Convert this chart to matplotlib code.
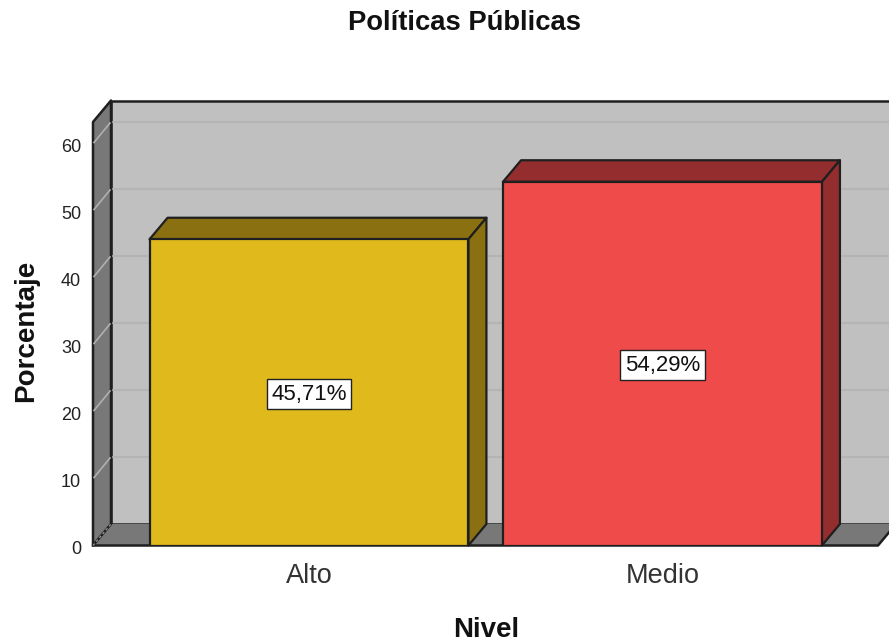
import matplotlib
matplotlib.use("Agg")
import matplotlib.pyplot as plt
from matplotlib.patches import Polygon
from matplotlib.transforms import ScaledTranslation

categories = ["Alto", "Medio"]
values = [45.71, 54.29]
labels = ["45,71%", "54,29%"]
yticks = [0, 10, 20, 30, 40, 50, 60]
title = "Políticas Públicas"
xlabel = "Nivel"
ylabel = "Porcentaje"

plt.rcParams["font.family"] = ["Liberation Sans", "DejaVu Sans"]
W, H = 889, 643
fig = plt.figure(figsize=(W / 100, H / 100), dpi=100)
# axes: pixel box of the front plane
L, R, B, T = 93, 889, 545.5, 100
ax = fig.add_axes([L / W, 1 - B / H, (R - L) / W, (B - T) / H])
PX_Y = 6.7
PX_X = 353.5
ax.set_ylim(0, (B - T) / PX_Y)
ax.set_xlim((L - 309) / PX_X, (R - 309) / PX_X)
for s in ax.spines.values():
    s.set_visible(False)
ax.patch.set_visible(False)

dx = 18 / PX_X
dy = 21.5 / PX_Y
x0, x1 = ax.get_xlim()
wall_top = (B - 122) / PX_Y  # front-plane top of wall
edge = "#1f1f1f"
side = "#787878"
back = "#C0C0C0"

def poly(pts, fc, z, lw=1.6, ec=edge):
    ax.add_patch(Polygon(pts, closed=True, facecolor=fc, edgecolor=ec, linewidth=lw,
                         zorder=z, clip_on=False, joinstyle="round"))

# back wall
poly([(x0 + dx, dy), (x1 + 0.2, dy), (x1 + 0.2, wall_top + dy), (x0 + dx, wall_top + dy)], back, 1, lw=1.8)
# floor
floor_r = x1 - 11 / PX_X
poly([(x0, 0), (floor_r, 0), (floor_r + dx, dy), (x0 + dx, dy)], side, 2, lw=0)
ax.plot([x0, floor_r, floor_r + dx], [0, 0, dy], color=edge, lw=1.8, zorder=2.1, clip_on=False)
# gridlines on the back wall
for t in yticks[1:]:
    ax.plot([x0 + dx, x1 + 0.2], [t + dy, t + dy], color="#B4B4B4", lw=1.5, zorder=1.5, clip_on=False)
# left wall
poly([(x0, 0), (x0 + dx, dy), (x0 + dx, wall_top + dy), (x0, wall_top)], side, 2, lw=1.8)
ax.plot([x0, x0 + dx], [0, dy], color="#9a9a9a", lw=0.9, ls=(0, (2, 2)), zorder=2.2, clip_on=False)
for t in yticks[1:]:
    ax.plot([x0 + 1 / PX_X, x0 + dx - 1 / PX_X], [t + 1 / PX_Y, t + dy - 1 / PX_Y], color="#B0B0B0", lw=1.2, zorder=2.3, clip_on=False)

# bars
xs = list(range(len(categories)))
width = 0.902
face = ["#E0BA1C", "#EF4B4B"]
dark = ["#8A7010", "#942E2E"]
ax.bar(xs, values, width=width, color=face, edgecolor=edge, linewidth=1.6, zorder=5)
for x, v, d in zip(xs, values, dark):
    l, r = x - width / 2, x + width / 2
    poly([(l, v), (r, v), (r + dx, v + dy), (l + dx, v + dy)], d, 4)
    poly([(r, 0), (r + dx, dy), (r + dx, v + dy), (r, v)], d, 4)

# data labels
for x, v, s in zip(xs, values, labels):
    ax.annotate(s, (x, v / 2), xytext=(0, -1.2), textcoords="offset points",
                ha="center", va="center", fontsize=16, color="#111111", zorder=6,
                bbox=dict(boxstyle="square,pad=0.2", facecolor="white", edgecolor="#222222", linewidth=1))

ax.set_yticks(yticks)
ax.set_xticks(xs)
ax.set_xticklabels(categories)
ax.tick_params(axis="y", length=0, pad=8.5, labelsize=13, labelcolor="#222222")
ax.tick_params(axis="x", length=0, pad=12.5, labelsize=19.5, labelcolor="#333333")
shift = ScaledTranslation(0, -2 / 100, fig.dpi_scale_trans)
for lab in ax.get_yticklabels():
    lab.set_transform(lab.get_transform() + shift)

fig.text(464 / W, 1 - 23 / H, title, ha="center", va="center", fontsize=19.7, fontweight="bold", color="#111111")
fig.text(486 / W, 1 - 630 / H, xlabel, ha="center", va="center", fontsize=20, fontweight="bold", color="#111111")
fig.text(26 / W, 1 - 331 / H, ylabel, ha="center", va="center", rotation=90, fontsize=20, fontweight="bold", color="#111111")

fig.savefig("out.png", dpi=100)
